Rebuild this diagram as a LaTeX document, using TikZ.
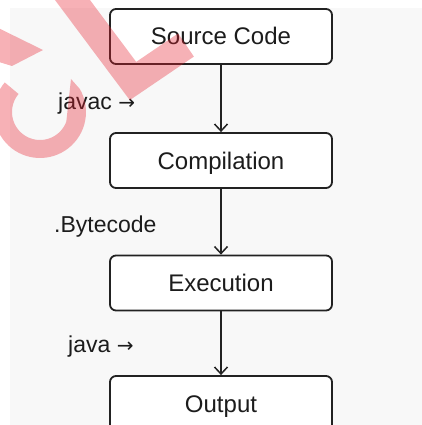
\documentclass[tikz,border=0pt]{standalone}
\usepackage{fontspec}
\setmainfont{Liberation Sans}
\usepackage{tikz}
\usetikzlibrary{arrows.meta}
\definecolor{boxline}{HTML}{222222}
\definecolor{canvas}{HTML}{F8F8F8}
\definecolor{inktext}{HTML}{1C1C1C}
\definecolor{stamp}{HTML}{E8202E}
\tikzset{
  % --- pipeline stages ---
  stage/.style={draw=boxline, line width=1.8pt, rounded corners=6pt,
                fill=white, minimum width=222pt, minimum height=55pt,
                inner sep=0pt, text=inktext, text height=17pt, text depth=0pt,
                font=\fontsize{24}{28}\selectfont},
  % --- flows and their side notes ---
  flow/.style={-{Straight Barb[length=7pt,width=13pt]}, line width=1.5pt,
               draw=boxline},
  flownote/.style={anchor=base west, inner sep=0pt, text=inktext,
                   font=\fontsize{23}{27}\selectfont},
  % --- red watermark over everything ---
  stampfill/.style={fill=stamp, fill opacity=0.35},
  stampline/.style={draw=stamp, draw opacity=0.35, line width=28pt,
                    miter limit=4},
}

\begin{document}
\begin{tikzpicture}[x=1pt, y=-1pt]
  \useasboundingbox (0,0) rectangle (422,425);
  \clip (0,0) rectangle (422,425);
  \fill[canvas] (10,8) rectangle (422,425);

  % --- stages down the spine (x = 221) ---
  \node[stage] (src)  at (221, 36.5)  {Source Code};
  \node[stage] (comp) at (221,160.5)  {Compilation};
  \node[stage] (exec) at (221,283)    {Execution};
  \node[stage] (out)  at (221,403.5)  {Output};

  % --- notes left of the flows ---
  \node[flownote] (njavac) at (58,110)  {javac {\fontspec{DejaVu Sans}\fontsize{20}{24}\selectfont →}};
  \node[flownote] (nbyte)  at (54,232)  {.Bytecode};
  \node[flownote] (njava)  at (68,352)  {java {\fontspec{DejaVu Sans}\fontsize{20}{24}\selectfont →}};

  % --- spine flows ---
  \draw[flow] (src)  -- (comp);
  \draw[flow] (comp) -- (exec);
  \draw[flow] (exec) -- (out);

  % --- watermark: check stroke, ring with barbed head ---
  \draw[stampline] (65,-10) -- (133,81) -- (186,45);
  \fill[stampfill] plot[domain=-30:220, samples=50] ({40+46*cos(\x)},{112+46*sin(\x)})
        -- plot[domain=220:20, samples=50] ({40+28*cos(\x)},{112+28*sin(\x)})
        -- (71,79) -- cycle;
  \fill[stampfill] (43,50) -- (-14,22) -- (-14,58) -- (12,66) -- cycle;
\end{tikzpicture}
\end{document}
